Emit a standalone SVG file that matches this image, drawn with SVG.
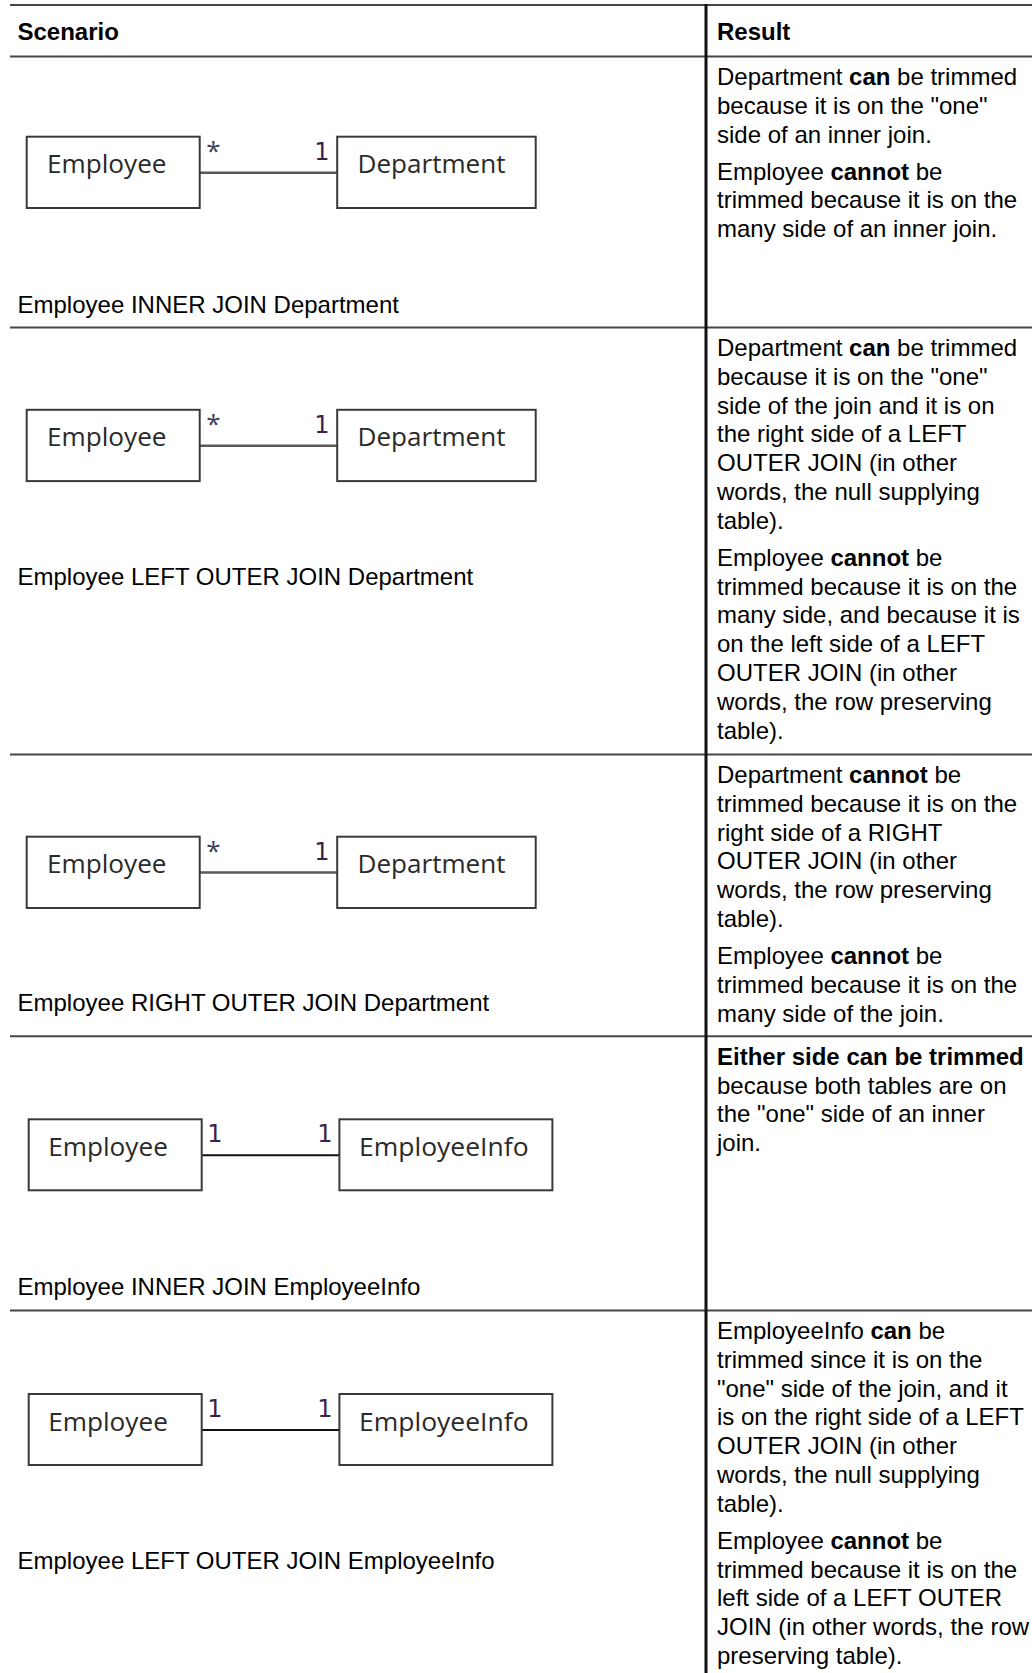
<svg xmlns="http://www.w3.org/2000/svg" width="1032" height="1673" viewBox="0 0 1032 1673">
<style>
.t{font-family:"Liberation Sans",Arial,sans-serif;font-size:24px;fill:#000}
.b{font-weight:bold}
.rule{stroke:#474747;stroke-width:2;fill:none}
.vrule{stroke:#111;stroke-width:3;fill:none}
.box{fill:#fff;stroke:#3a3a3a;stroke-width:2}
.lbl{font-family:"Open Sans",sans-serif;font-size:26px;fill:#2a2a2a}
.mult{font-family:"DejaVu Sans",sans-serif;font-size:24px;fill:#3d1f4d;text-anchor:middle}
.ast{font-family:"Open Sans",sans-serif;font-size:26px;fill:#3a3f5a;text-anchor:middle}
.c1{stroke:#5a5a5a;stroke-width:2.5;fill:none}
.c2{stroke:#111;stroke-width:2;fill:none}
</style>
<rect width="1032" height="1673" fill="#fff"/>
<g id="table-grid">
<line class="rule" x1="10" y1="5" x2="1032" y2="5"/>
<line class="rule" x1="10" y1="56.6" x2="1032" y2="56.6"/>
<line class="rule" x1="10" y1="327.6" x2="1032" y2="327.6"/>
<line class="rule" x1="10" y1="754.5" x2="1032" y2="754.5"/>
<line class="rule" x1="10" y1="1036.3" x2="1032" y2="1036.3"/>
<line class="rule" x1="10" y1="1310.5" x2="1032" y2="1310.5"/>
<line class="vrule" x1="706" y1="4" x2="706" y2="1673"/>
</g>
<g id="header">
<text class="t b" x="17.5" y="40">Scenario</text>
<text class="t b" x="717" y="40">Result</text>
</g>
<g id="connectors">
<line class="c1" x1="199.7" y1="172.7" x2="337.2" y2="172.7"/>
<line class="c1" x1="199.7" y1="445.8" x2="337.2" y2="445.8"/>
<line class="c1" x1="199.7" y1="872.5" x2="337.2" y2="872.5"/>
<line class="c2" x1="201.7" y1="1155.3" x2="339.4" y2="1155.3"/>
<line class="c2" x1="201.7" y1="1430" x2="339.4" y2="1430"/>
<text class="ast" x="213.5" y="160">*</text>
<text class="mult" x="322" y="160">1</text>
<text class="ast" x="213.5" y="433">*</text>
<text class="mult" x="322" y="433">1</text>
<text class="ast" x="213.5" y="860">*</text>
<text class="mult" x="322" y="860">1</text>
<text class="mult" x="215" y="1142">1</text>
<text class="mult" x="325" y="1142">1</text>
<text class="mult" x="215" y="1417">1</text>
<text class="mult" x="325" y="1417">1</text>
</g>
<g id="row1-employee"><rect class="box" x="26.7" y="136.7" width="173" height="71.3"/><text class="lbl" x="47" y="173" textLength="119.5" lengthAdjust="spacingAndGlyphs">Employee</text></g>
<g id="row1-department"><rect class="box" x="337.2" y="136.7" width="198.5" height="71.3"/><text class="lbl" x="357.5" y="173" textLength="148" lengthAdjust="spacingAndGlyphs">Department</text></g>
<g id="row2-employee"><rect class="box" x="26.7" y="409.8" width="173" height="71.3"/><text class="lbl" x="47" y="446.3" textLength="119.5" lengthAdjust="spacingAndGlyphs">Employee</text></g>
<g id="row2-department"><rect class="box" x="337.2" y="409.8" width="198.5" height="71.3"/><text class="lbl" x="357.5" y="446.3" textLength="148" lengthAdjust="spacingAndGlyphs">Department</text></g>
<g id="row3-employee"><rect class="box" x="26.7" y="836.7" width="173" height="71.3"/><text class="lbl" x="47" y="873" textLength="119.5" lengthAdjust="spacingAndGlyphs">Employee</text></g>
<g id="row3-department"><rect class="box" x="337.2" y="836.7" width="198.5" height="71.3"/><text class="lbl" x="357.5" y="873" textLength="148" lengthAdjust="spacingAndGlyphs">Department</text></g>
<g id="row4-employee"><rect class="box" x="28.7" y="1119.3" width="173" height="71"/><text class="lbl" x="48.2" y="1156" textLength="119.7" lengthAdjust="spacingAndGlyphs">Employee</text></g>
<g id="row4-employeeinfo"><rect class="box" x="339.4" y="1119.3" width="213" height="71"/><text class="lbl" x="359" y="1156" textLength="169.6" lengthAdjust="spacingAndGlyphs">EmployeeInfo</text></g>
<g id="row5-employee"><rect class="box" x="28.7" y="1394" width="173" height="71"/><text class="lbl" x="48.2" y="1430.7" textLength="119.7" lengthAdjust="spacingAndGlyphs">Employee</text></g>
<g id="row5-employeeinfo"><rect class="box" x="339.4" y="1394" width="213" height="71"/><text class="lbl" x="359" y="1430.7" textLength="169.6" lengthAdjust="spacingAndGlyphs">EmployeeInfo</text></g>
<g id="scenario-labels">
<text class="t" x="17.5" y="312.5">Employee INNER JOIN Department</text>
<text class="t" x="17.5" y="585">Employee LEFT OUTER JOIN Department</text>
<text class="t" x="17.5" y="1011">Employee RIGHT OUTER JOIN Department</text>
<text class="t" x="17.5" y="1295">Employee INNER JOIN EmployeeInfo</text>
<text class="t" x="17.5" y="1569">Employee LEFT OUTER JOIN EmployeeInfo</text>
</g>
<g id="result-row1">
<text class="t" x="717" y="85">Department <tspan class="b">can</tspan> be trimmed</text>
<text class="t" x="717" y="113.8">because it is on the "one"</text>
<text class="t" x="717" y="142.6">side of an inner join.</text>
<text class="t" x="717" y="179.6">Employee <tspan class="b">cannot</tspan> be</text>
<text class="t" x="717" y="208.4">trimmed because it is on the</text>
<text class="t" x="717" y="237.2">many side of an inner join.</text>
</g>
<g id="result-row2">
<text class="t" x="717" y="356">Department <tspan class="b">can</tspan> be trimmed</text>
<text class="t" x="717" y="384.8">because it is on the "one"</text>
<text class="t" x="717" y="413.6">side of the join and it is on</text>
<text class="t" x="717" y="442.4">the right side of a LEFT</text>
<text class="t" x="717" y="471.2">OUTER JOIN (in other</text>
<text class="t" x="717" y="500">words, the null supplying</text>
<text class="t" x="717" y="528.8">table).</text>
<text class="t" x="717" y="565.8">Employee <tspan class="b">cannot</tspan> be</text>
<text class="t" x="717" y="594.6">trimmed because it is on the</text>
<text class="t" x="717" y="623.4">many side, and because it is</text>
<text class="t" x="717" y="652.2">on the left side of a LEFT</text>
<text class="t" x="717" y="681">OUTER JOIN (in other</text>
<text class="t" x="717" y="709.8">words, the row preserving</text>
<text class="t" x="717" y="738.6">table).</text>
</g>
<g id="result-row3">
<text class="t" x="717" y="783">Department <tspan class="b">cannot</tspan> be</text>
<text class="t" x="717" y="811.8">trimmed because it is on the</text>
<text class="t" x="717" y="840.6">right side of a RIGHT</text>
<text class="t" x="717" y="869.4">OUTER JOIN (in other</text>
<text class="t" x="717" y="898.2">words, the row preserving</text>
<text class="t" x="717" y="927">table).</text>
<text class="t" x="717" y="964">Employee <tspan class="b">cannot</tspan> be</text>
<text class="t" x="717" y="992.8">trimmed because it is on the</text>
<text class="t" x="717" y="1021.6">many side of the join.</text>
</g>
<g id="result-row4">
<text class="t b" x="717" y="1064.7">Either side can be trimmed</text>
<text class="t" x="717" y="1093.5">because both tables are on</text>
<text class="t" x="717" y="1122.3">the "one" side of an inner</text>
<text class="t" x="717" y="1151.1">join.</text>
</g>
<g id="result-row5">
<text class="t" x="717" y="1339">EmployeeInfo <tspan class="b">can</tspan> be</text>
<text class="t" x="717" y="1367.8">trimmed since it is on the</text>
<text class="t" x="717" y="1396.6">"one" side of the join, and it</text>
<text class="t" x="717" y="1425.4">is on the right side of a LEFT</text>
<text class="t" x="717" y="1454.2">OUTER JOIN (in other</text>
<text class="t" x="717" y="1483">words, the null supplying</text>
<text class="t" x="717" y="1511.8">table).</text>
<text class="t" x="717" y="1548.8">Employee <tspan class="b">cannot</tspan> be</text>
<text class="t" x="717" y="1577.6">trimmed because it is on the</text>
<text class="t" x="717" y="1606.4">left side of a LEFT OUTER</text>
<text class="t" x="717" y="1635.2">JOIN (in other words, the row</text>
<text class="t" x="717" y="1664">preserving table).</text>
</g>
</svg>
